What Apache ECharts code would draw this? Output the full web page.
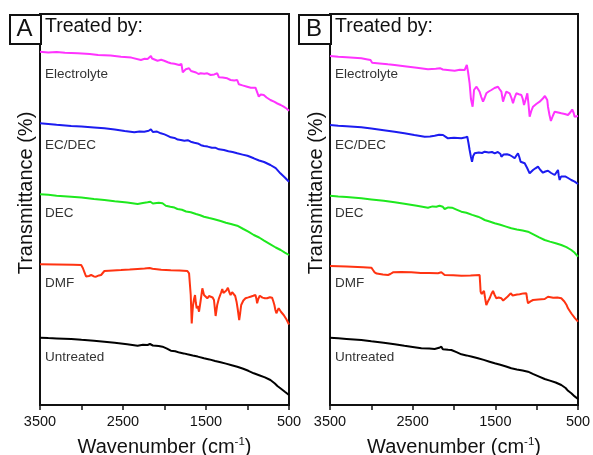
<!DOCTYPE html>
<html>
<head>
<meta charset="utf-8">
<script src="https://cdn.jsdelivr.net/npm/echarts@6/dist/echarts.min.js"></script>
<style>
html,body{margin:0;padding:0;background:#fff;}
#chart{width:593px;height:455px;}
</style>
</head>
<body>
<div id="chart"></div>
<script>
// ---- data (wavenumber cm-1, transmittance a.u. with vertical offsets) ----
const seriesNames = ['Electrolyte', 'EC/DEC', 'DEC', 'DMF', 'Untreated'];
const seriesColors = ['#ff33ff', '#1c1cf0', '#1ee81e', '#ff3311', '#000000'];
const panelNames = ['A', 'B'];
const xTickLabels = [3500, 2500, 1500, 500];

const aElectrolyte = [[3500,353.3],[3400,352.6],[3300,353],[3200,352.2],[3044,351.7],[2900,351],[2800,350],[2650,349.4],[2524,348.3],[2400,347.4],[2284,345],[2240,346.2],[2204,346],[2180,347.5],[2164,349],[2150,346.5],[2132,345],[2084,344.3],[2040,345.2],[2004,344.3],[1960,342.8],[1924,341.7],[1880,341.2],[1824,340],[1796,341],[1780,332.7],[1760,334.5],[1744,335.7],[1704,336.7],[1680,334],[1664,332.7],[1620,332.5],[1590,331],[1570,333],[1564,331.7],[1520,331.2],[1484,331.7],[1460,332.8],[1444,330],[1400,330.6],[1364,331.7],[1344,327.7],[1300,327.5],[1244,326.7],[1220,327.5],[1204,325],[1160,324.5],[1124,325],[1110,326],[1104,320.7],[1060,319.6],[1004,318.3],[960,317.2],[904,317.3],[884,319],[864,308.3],[840,310.5],[804,310],[770,307.5],[724,305],[680,303.3],[640,301.5],[600,300],[564,298.3],[530,296.5],[500,294.3]];
const aEcDec = [[3500,281.7],[3400,281],[3300,280.2],[3124,279],[3000,278.6],[2850,277.6],[2724,276.7],[2600,275.5],[2480,274],[2364,272.7],[2300,273.6],[2244,273.3],[2190,274.2],[2164,275.7],[2140,273],[2124,272.3],[2090,273.4],[2044,271.7],[2000,270.6],[1960,269.2],[1924,267.7],[1880,267.1],[1840,265.4],[1804,265],[1760,264.2],[1720,264.8],[1684,263.3],[1640,262.2],[1600,261.6],[1560,259.8],[1524,259],[1480,258.4],[1430,257.2],[1390,257.3],[1344,255.7],[1284,255],[1230,253.8],[1180,253],[1124,251.7],[1060,250.4],[1000,249.2],[924,246.7],[860,244.5],[800,243],[724,240],[660,236.8],[604,231.7],[550,227.5],[500,223.3]];
const aDec = [[3500,210.7],[3400,210.2],[3300,209.3],[3124,208.3],[3000,207.4],[2850,206],[2724,205],[2600,203.8],[2450,202.4],[2324,201],[2260,202],[2204,202.7],[2170,203.3],[2156,205],[2140,201.5],[2116,200.7],[2070,202.2],[2024,201.7],[1984,199.3],[1930,198.3],[1880,197.4],[1844,196],[1790,195.2],[1740,193.5],[1684,192.7],[1620,191],[1570,189.8],[1524,188.3],[1460,187],[1400,185.8],[1324,184],[1260,182.3],[1200,181],[1124,179.3],[1050,176],[990,173.4],[924,170],[860,167.5],[800,164.4],[724,160.7],[660,157.5],[600,155],[550,152.4],[500,150]];
const aDmf = [[3500,140.7],[3300,140.5],[3100,140.3],[3004,140],[2984,137],[2964,132.7],[2945,128.5],[2932,126.7],[2910,129],[2884,130],[2850,128.6],[2824,128.3],[2790,129.6],[2764,130],[2740,132],[2724,134],[2620,134.6],[2524,135],[2420,135.5],[2324,136],[2240,136.4],[2180,137],[2164,138.3],[2144,136.2],[2124,135.7],[2040,135.2],[1924,134.7],[1820,134.6],[1724,134],[1704,131.7],[1684,110],[1672,81.5],[1664,92],[1656,100],[1644,106],[1632,110],[1622,102],[1612,96.7],[1600,99],[1584,93.3],[1565,104],[1544,116.7],[1524,110],[1500,108.6],[1484,106.7],[1464,109],[1444,110],[1420,107.5],[1404,105],[1384,89],[1365,100],[1344,106.7],[1320,112],[1304,116],[1290,112],[1276,110],[1255,114.5],[1236,117.3],[1220,113],[1204,110],[1185,112.8],[1164,114],[1148,109],[1132,103.3],[1118,96],[1100,85],[1088,92],[1076,100],[1050,104.5],[1024,106.7],[990,107.6],[964,108.3],[930,109.2],[904,110],[892,106],[884,101.7],[870,106],[852,109.3],[820,107.4],[790,106.8],[764,106.7],[730,107.8],[704,107.3],[690,104],[676,100],[664,95],[652,91.7],[638,94.5],[624,96.7],[595,93],[564,90],[530,85.5],[500,80.5]];
const aUntreated = [[3500,67.3],[3400,66.9],[3300,66.6],[3124,66],[3000,65.2],[2850,64.3],[2724,63.3],[2600,62.2],[2450,60.8],[2324,59.3],[2260,60.2],[2204,60],[2175,61],[2156,62.3],[2140,59.5],[2124,58.3],[2070,59],[2024,58.3],[1970,56.4],[1924,54.3],[1870,53.8],[1820,52.4],[1770,51.6],[1724,50.7],[1660,49.5],[1600,48.4],[1524,46.7],[1460,45.6],[1390,44],[1324,42.7],[1260,41.4],[1190,39.8],[1124,38.3],[1060,36.5],[990,34.2],[924,31.7],[860,29.8],[790,27.6],[724,25],[670,21.5],[640,19],[604,16.7],[550,13.2],[500,10]];

const bElectrolyte = [[3500,349],[3400,348.2],[3300,347.8],[3121,346.7],[3060,345.8],[3010,345],[2990,342.3],[2900,341.6],[2800,340.7],[2718,340],[2600,338.8],[2450,337.2],[2315,335.7],[2220,336.2],[2170,336.8],[2153,337.7],[2135,335.5],[2113,335],[2050,334.8],[1992,334.3],[1930,335.2],[1871,335],[1855,337],[1845,340],[1830,333],[1811,321.7],[1795,306],[1775,298.3],[1766,306],[1758,315],[1744,317],[1730,318.3],[1710,316],[1690,313.3],[1670,308],[1649,303.3],[1630,307],[1609,311.7],[1580,313.5],[1548,315],[1510,317],[1468,318.3],[1450,316],[1427,313.3],[1407,303.3],[1390,308],[1367,313.3],[1345,313.8],[1327,311.7],[1305,307],[1286,301.7],[1268,307],[1246,311.7],[1215,310.8],[1185,310],[1168,306],[1153,300],[1135,305],[1113,311.7],[1100,302],[1085,288.3],[1065,294],[1044,298.3],[1005,301],[964,303.3],[925,306.5],[900,309],[883,311],[872,305],[863,298.3],[845,290],[828,284],[805,289],[782,293.3],[740,292.5],[702,291.7],[660,291],[621,290],[590,293],[570,295.5],[561,296.7],[552,292],[541,288.3],[520,290],[500,289]];
const bEcDec = [[3500,280],[3400,279.3],[3300,278.8],[3121,277.7],[3000,276.4],[2850,274.8],[2718,273.3],[2600,271.7],[2480,270],[2355,268.3],[2290,268.6],[2234,269.3],[2180,270.3],[2133,270],[2100,268.2],[2073,266.7],[2000,267.2],[1911,266.7],[1870,267.4],[1839,268.3],[1825,262],[1811,255],[1795,248],[1782,243.3],[1768,249],[1750,251.7],[1700,252.6],[1660,252],[1629,253.3],[1580,252.4],[1540,253],[1508,251.7],[1470,253],[1448,255],[1438,251],[1427,248.3],[1400,250.5],[1360,250.8],[1327,250],[1296,248.5],[1266,246.7],[1245,249.5],[1226,251.7],[1210,248],[1194,243.3],[1170,242.6],[1145,241.7],[1115,237],[1085,231.7],[1065,233.5],[1044,235],[1015,236.7],[984,238.3],[955,235],[924,232.3],[895,233.5],[863,234.3],[825,232],[782,230],[760,231.5],[742,235],[732,229],[722,225],[705,228.5],[682,230],[650,228.4],[620,227],[581,225],[540,223.4],[500,221]];
const bDec = [[3500,209.3],[3400,208.6],[3300,208],[3121,206.7],[3000,205.6],[2850,204.2],[2718,202.7],[2600,201.3],[2450,199.2],[2315,197.3],[2260,198.6],[2214,198.3],[2175,199.2],[2153,201],[2135,198.2],[2113,196],[2070,197.6],[2024,197.3],[1970,195.4],[1911,193.3],[1850,192.3],[1780,190.1],[1710,188.3],[1670,186.8],[1629,185],[1570,183.5],[1508,181.7],[1440,180.2],[1370,178.4],[1307,176.7],[1240,175.6],[1170,174.5],[1105,173.3],[1040,170.6],[970,167.6],[903,165],[840,163.4],[770,161.8],[702,160],[640,157.8],[581,155],[540,152.2],[500,148.3]];
const bDmf = [[3500,139],[3300,138.5],[3100,137.8],[3000,137.3],[2980,135],[2960,132.7],[2935,131.4],[2919,130.7],[2860,130.4],[2798,130],[2770,131],[2738,132.7],[2640,132.9],[2516,132.7],[2400,132.1],[2300,132],[2194,131.7],[2170,132.4],[2153,132.7],[2135,131],[2113,130],[2010,129.8],[1911,129.3],[1800,129.6],[1690,130],[1684,122],[1678,113.3],[1667,111],[1657,110],[1647,112],[1637,114],[1622,106],[1609,100],[1590,103.5],[1569,106.7],[1548,111],[1528,114],[1508,110],[1488,106.7],[1460,107.5],[1427,106.7],[1405,104.5],[1387,104],[1350,108.5],[1315,111.7],[1290,109.5],[1266,108.3],[1236,110.4],[1206,110.7],[1160,111.6],[1125,111.7],[1115,106],[1105,101.7],[1075,103.6],[1044,105],[980,105.6],[903,106],[880,107.2],[863,108.3],[800,107.3],[750,107.4],[702,106.7],[665,103.5],[640,100.3],[621,96.7],[580,91.5],[540,87.2],[500,83.3]];
const bUntreated = [[3500,67.3],[3400,66.7],[3300,66.1],[3121,65],[3000,63.7],[2850,62.3],[2718,60.7],[2600,59.2],[2500,58],[2395,56.7],[2300,56.6],[2234,56],[2180,57.2],[2153,58.3],[2135,55.7],[2113,54],[2070,55.2],[2032,55],[1970,52.8],[1911,50.7],[1850,49.6],[1780,48.2],[1710,46.7],[1640,45.1],[1570,43.3],[1508,41.7],[1440,40.2],[1370,38.5],[1307,36.7],[1240,35.6],[1170,34.5],[1105,33.3],[1040,30.9],[970,28.4],[903,26],[840,24.4],[770,22.5],[702,20],[650,17],[620,14.2],[581,11.7],[540,8.6],[500,6]];

const panelData = [
  [aElectrolyte, aEcDec, aDec, aDmf, aUntreated],
  [bElectrolyte, bEcDec, bDec, bDmf, bUntreated]
];

// ---- chart ----
const FONT = '"Liberation Sans", Arial, Helvetica, sans-serif';
const grids = [
  {left: 40, top: 14, width: 249, height: 391},
  {left: 330, top: 14, width: 248, height: 391}
];
const labelYs = [74, 145, 213, 283.5, 357];

const chart = echarts.init(document.getElementById('chart'), null, {renderer: 'canvas'});

const xAxes = grids.map((g, i) => ({
  gridIndex: i, type: 'value', min: 500, max: 3500, interval: 500, inverse: true,
  axisLine: {show: true, lineStyle: {color: '#111', width: 2}},
  axisTick: {show: true, inside: false, length: 5, lineStyle: {color: '#111', width: 1.5}},
  splitLine: {show: false},
  axisLabel: {
    show: true, margin: 9, fontSize: 14.5, color: '#111', fontFamily: FONT,
    showMinLabel: true, showMaxLabel: true,
    formatter: v => (xTickLabels.indexOf(v) >= 0 ? String(v) : '')
  },
  name: 'Wavenumber (cm{sup|-1})', nameLocation: 'middle', nameGap: 31,
  nameTextStyle: {
    fontSize: 20, color: '#111', fontFamily: FONT, lineHeight: 22,
    rich: {sup: {fontSize: 11.5, fontFamily: FONT, color: '#111', verticalAlign: 'top', lineHeight: 22}}
  }
}));
const yAxes = grids.map((g, i) => ({
  gridIndex: i, type: 'value', min: 0, max: 391,
  axisLine: {show: true, lineStyle: {color: '#111', width: 2}},
  axisTick: {show: false}, axisLabel: {show: false}, splitLine: {show: false}
}));

const series = [];
panelData.forEach((sets, p) => {
  sets.forEach((d, k) => {
    series.push({
      type: 'line', xAxisIndex: p, yAxisIndex: p, name: panelNames[p] + ' ' + seriesNames[k],
      data: d, showSymbol: false, symbol: 'none', smooth: false,
      lineStyle: {color: seriesColors[k], width: 2}, z: 3
    });
  });
});

const graphic = [];
grids.forEach((g, p) => {
  const boxX = p === 0 ? 9 : 298;
  graphic.push({
    type: 'rect', left: boxX, top: 14, shape: {width: g.left - boxX, height: 29},
    style: {fill: '#fff', stroke: '#111', lineWidth: 2}, z: 10
  });
  graphic.push({
    type: 'text', x: (boxX + g.left) / 2, y: 29,
    style: {text: panelNames[p], fontSize: 24, fontFamily: FONT, fill: '#111', textAlign: 'center', textVerticalAlign: 'middle'}, z: 11
  });
  graphic.push({
    type: 'text', x: g.left + 5, y: 27,
    style: {text: 'Treated by:', fontSize: 19.5, fontFamily: FONT, fill: '#111', textAlign: 'left', textVerticalAlign: 'middle'}, z: 11
  });
  graphic.push({
    type: 'text', x: p === 0 ? 26.5 : 316.5, y: 193, rotation: Math.PI / 2,
    style: {text: 'Transmittance (%)', fontSize: 20, fontFamily: FONT, fill: '#111', textAlign: 'center', textVerticalAlign: 'middle'}, z: 11
  });
  seriesNames.forEach((nm, k) => {
    graphic.push({
      type: 'text', x: g.left + 5, y: labelYs[k],
      style: {text: nm, fontSize: 13.5, fontFamily: FONT, fill: '#333', textAlign: 'left', textVerticalAlign: 'middle'}, z: 11
    });
  });
});

chart.setOption({
  animation: false,
  backgroundColor: '#fff',
  grid: grids.map(g => Object.assign({show: true, borderColor: '#111', borderWidth: 2, backgroundColor: 'transparent', containLabel: false, outerBoundsMode: 'none'}, g)),
  xAxis: xAxes,
  yAxis: yAxes,
  series: series,
  graphic: graphic
});
</script>
</body>
</html>
